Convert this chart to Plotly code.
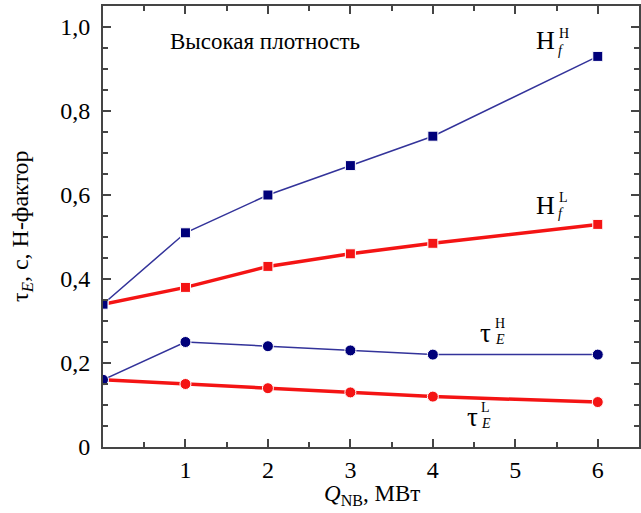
import plotly.graph_objects as go

# Heating power, MW
q_nb = [0, 1, 2, 3, 4, 6]

# H-factor and confinement time, high-density regime
hf_high = [0.34, 0.51, 0.60, 0.67, 0.74, 0.93]
hf_low = [0.34, 0.38, 0.43, 0.46, 0.485, 0.53]
tau_high = [0.16, 0.25, 0.24, 0.23, 0.22, 0.22]
tau_low = [0.16, 0.15, 0.14, 0.13, 0.12, 0.107]

y_ticks = [0, 0.2, 0.4, 0.6, 0.8, 1.0]
y_tick_text = ["0", "0,2", "0,4", "0,6", "0,8", "1,0"]
x_ticks = [1, 2, 3, 4, 5, 6]
x_tick_text = ["1", "2", "3", "4", "5", "6"]

NAVY = "#00007a"
NAVY_LINE = "#33339a"
RED = "#f41414"
FONT = "Liberation Serif, Times New Roman, serif"
AXIS = "#454545"

fig = go.Figure()


def add_series(y, line_color, marker_color, width, symbol, size):
    fig.add_trace(go.Scatter(
        x=q_nb, y=y, mode="lines+markers",
        line=dict(color=line_color, width=width),
        marker=dict(symbol=symbol, size=size, color=marker_color,
                    line=dict(color="white", width=1)),
        showlegend=False, hoverinfo="skip",
    ))


add_series(hf_low, RED, RED, 3.5, "square", 10)
add_series(tau_low, RED, RED, 3.5, "circle", 11)
add_series(hf_high, NAVY_LINE, NAVY, 1.5, "square", 10)
add_series(tau_high, NAVY_LINE, NAVY, 1.5, "circle", 11)

annotations = []


def label(text, x, y, size, italic=False, xref="x", yref="y", angle=0):
    t = f"<i>{text}</i>" if italic else text
    annotations.append(dict(
        text=t, x=x, y=y, xref=xref, yref=yref, showarrow=False,
        xanchor="center", yanchor="middle", textangle=angle,
        font=dict(family=FONT, size=size, color="black"),
    ))


label("Высокая плотность", 1.96, 0.965, 23)

# H-factor labels
label("H", 5.37, 0.967, 26)
label("H", 5.59, 0.985, 14)
label("f", 5.56, 0.943, 14, italic=True)
label("H", 5.37, 0.576, 26)
label("L", 5.58, 0.595, 14)
label("f", 5.55, 0.557, 14, italic=True)

# confinement time labels
label("τ", 4.64, 0.272, 27)
label("H", 4.81, 0.293, 14)
label("E", 4.81, 0.257, 14, italic=True)
label("τ", 4.48, 0.072, 27)
label("L", 4.64, 0.093, 14)
label("E", 4.64, 0.055, 14, italic=True)

# axis titles
label("τ<sub><i>E</i></sub>, с, Н-фактор", -0.152, 0.5, 24,
      xref="paper", yref="paper", angle=-90)
label("<i>Q</i><sub>NB</sub>, МВт", 0.502, -0.109, 23,
      xref="paper", yref="paper")

fig.update_layout(
    width=641, height=513,
    margin=dict(l=103, r=0, t=6, b=66),
    paper_bgcolor="white", plot_bgcolor="white",
    annotations=annotations,
    shapes=[dict(type="rect", xref="x", yref="y", x0=4.35, x1=4.79,
                 y0=0.02, y1=0.116, fillcolor="white", line=dict(width=0),
                 layer="below")],
    xaxis=dict(
        range=[0, 6.5], tickvals=x_ticks, ticktext=x_tick_text,
        ticks="inside", ticklen=8, tickwidth=1.5, tickcolor=AXIS,
        showline=True, linecolor=AXIS, linewidth=2, mirror="ticks",
        showgrid=False, zeroline=False,
        tickfont=dict(family=FONT, size=24, color="black"),
        minor=dict(dtick=0.5, tick0=0, ticks="inside", ticklen=5,
                   tickwidth=1.5, tickcolor=AXIS, showgrid=False),
    ),
    yaxis=dict(
        range=[0, 1.05], tickvals=y_ticks, ticktext=y_tick_text,
        ticks="inside", ticklen=8, tickwidth=1.5, tickcolor=AXIS,
        showline=True, linecolor=AXIS, linewidth=2, mirror="ticks",
        showgrid=False, zeroline=False, ticklabelstandoff=6,
        tickfont=dict(family=FONT, size=24, color="black"),
        minor=dict(dtick=0.05, tick0=0, ticks="inside", ticklen=5,
                   tickwidth=1.5, tickcolor=AXIS, showgrid=False),
    ),
)

fig.write_html("out.html")
